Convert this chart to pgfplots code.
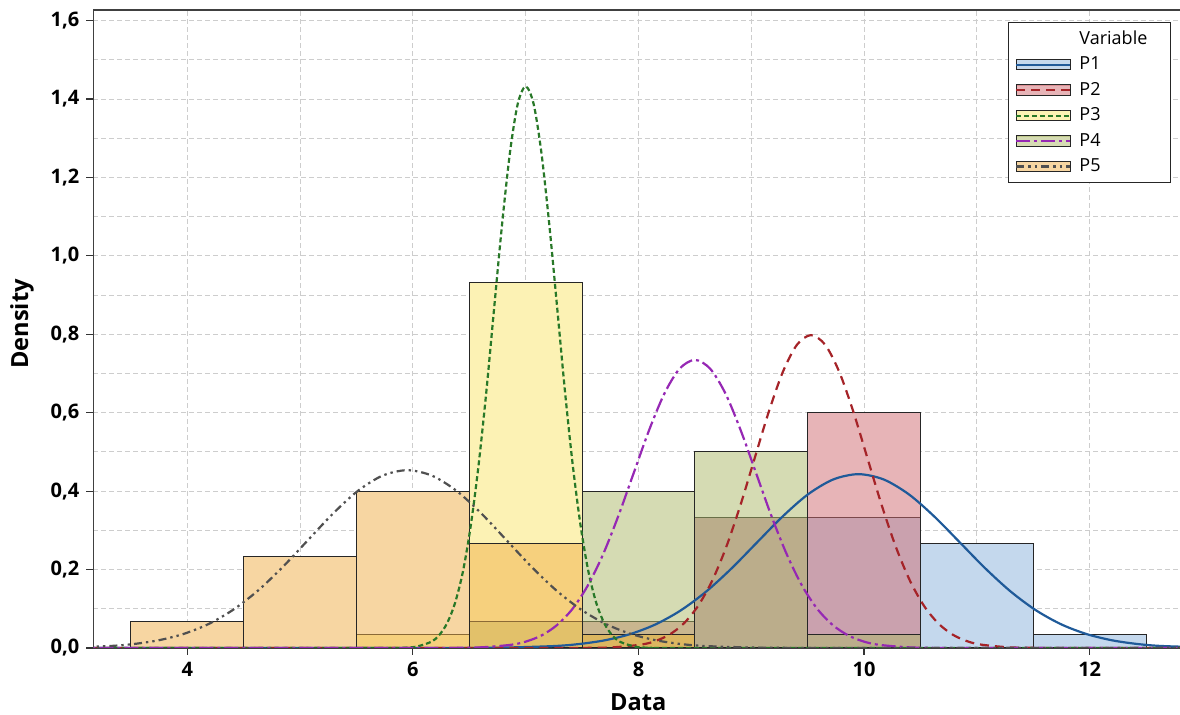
\documentclass[border=0pt]{standalone}
\usepackage{fontspec}
\setmainfont{Open Sans}
\usepackage{pgfplots}
\pgfplotsset{compat=1.18}

\definecolor{gridc}{RGB}{205,205,205}
\definecolor{f1}{RGB}{139,179,221}
\definecolor{f2}{RGB}{209,107,113}
\definecolor{f3}{RGB}{251,231,107}
\definecolor{f4}{RGB}{173,185,105}
\definecolor{f5}{RGB}{241,175,71}
\definecolor{l1}{RGB}{31,90,153}
\definecolor{l2}{RGB}{165,35,40}
\definecolor{l3}{RGB}{40,120,40}
\definecolor{l4}{RGB}{150,40,180}
\definecolor{l5}{RGB}{80,80,80}

\tikzset{
  c1/.style={color=l1, line width=1.1pt, solid},
  c2/.style={color=l2, line width=1.1pt, dash pattern=on 4.5pt off 3pt},
  c3/.style={color=l3, line width=1.1pt, dash pattern=on 2.5pt off 1.5pt},
  c4/.style={color=l4, line width=1.1pt, dash pattern=on 7pt off 2pt on 1.5pt off 2pt},
  c5/.style={color=l5, line width=1.1pt, dash pattern=on 4pt off 2pt on 1.2pt off 2pt on 1.2pt off 2pt},
}
\pgfplotsset{
  bars/.style={ybar, bar width=1, bar shift=0pt, draw=black!85, line width=0.5pt,
    fill opacity=0.5, forget plot},
}

% legend swatch: filled box with the fit line across it
\newcommand\legsw[2]{\addlegendimage{legend image code/.code={%
  \fill[#1, opacity=0.5] (0pt,-2.6pt) rectangle (27pt,2.6pt);
  \draw[black!85, line width=0.5pt] (0pt,-2.6pt) rectangle (27pt,2.6pt);
  \draw[#2] (0pt,0pt) -- (27pt,0pt);
  \path[draw=none, fill=none] (0pt,0pt) -- (29.5pt,0pt);}}}

\begin{document}
\begin{tikzpicture}
\begin{axis}[
  at={(0,0)}, anchor=south west,
  width=545pt, height=319pt, scale only axis,
  xmin=3.167, xmax=12.83, ymin=0, ymax=1.627,
  xtick={4,6,8,10,12}, ytick={0,0.2,...,1.6},
  minor x tick num=1, minor y tick num=1,
  grid=both,
  major grid style={gridc, dash pattern=on 2.5pt off 1.5pt, line width=0.5pt},
  minor grid style={gridc, dash pattern=on 2.5pt off 1.5pt, line width=0.5pt},
  tick align=outside, tick pos=left,
  major tick length=3.5pt, minor tick length=0pt,
  tick style={black!80, line width=0.6pt},
  axis line style={black!75, line width=0.6pt},
  /pgf/number format/assume math mode=true,
  tick label style={font=\bfseries\fontsize{10}{12}\selectfont},
  yticklabel style={/pgf/number format/.cd, fixed, fixed zerofill, precision=1, use comma},
  xlabel={Data}, ylabel={Density},
  every axis x label/.style={at={(axis description cs:0.5,-0.0846)}, anchor=center,
    font=\bfseries\fontsize{11.8}{14}\selectfont},
  every axis y label/.style={at={(axis description cs:-0.0654,0.508)}, rotate=90, anchor=center,
    font=\bfseries\fontsize{11.8}{14}\selectfont},
  legend cell align=left,
  legend style={at={(1,1)}, anchor=north east, xshift=-6.15pt, yshift=-6pt,
    font=\fontsize{9}{11}\selectfont, draw=black!85, line width=0.6pt,
    inner xsep=3.5pt, inner ysep=2pt, row sep=0.75pt},
]
% white backing so the grid does not show through the bars
\addplot[ybar, bar width=1, bar shift=0pt, fill=white, draw=none, forget plot] coordinates
  {(4,0.0667) (5,0.2333) (6,0.4) (7,0.9333) (8,0.4) (9,0.5) (10,0.6) (11,0.2667) (12,0.0333)};

% histograms (density, bin width 1)
\addplot[bars, fill=f1] coordinates {(8,0.0333) (9,0.3333) (10,0.3333) (11,0.2667) (12,0.0333)};
\addplot[bars, fill=f2] coordinates {(8,0.0667) (9,0.3333) (10,0.6)};
\addplot[bars, fill=f3] coordinates {(6,0.0333) (7,0.9333) (8,0.0333)};
\addplot[bars, fill=f4] coordinates {(7,0.0667) (8,0.4) (9,0.5) (10,0.0333)};
\addplot[bars, fill=f5] coordinates {(4,0.0667) (5,0.2333) (6,0.4) (7,0.2667) (8,0.0333)};

% fitted normal curves
\addplot[c1, smooth, forget plot] coordinates {
  (3.0,0) (5.9,0) (6.35,0.0001) (6.80,0.0010) (7.25,0.0049) (7.475,0.0101) (7.70,0.0195)
  (7.925,0.0353) (8.15,0.0600) (8.375,0.0959) (8.60,0.1439) (8.825,0.2029) (9.05,0.2689)
  (9.275,0.3346) (9.50,0.3912) (9.725,0.4296) (9.95,0.4433) (10.175,0.4296) (10.40,0.3912)
  (10.625,0.3346) (10.85,0.2689) (11.075,0.2029) (11.30,0.1439) (11.525,0.0959) (11.75,0.0600)
  (11.975,0.0353) (12.20,0.0195) (12.425,0.0101) (12.65,0.0049) (13.10,0.0010)};
\addplot[c2, smooth, forget plot] coordinates {
  (3.0,0) (7.1,0) (7.53,0.0003) (7.78,0.0018) (8.03,0.0089) (8.155,0.0182) (8.28,0.0350)
  (8.405,0.0635) (8.53,0.1080) (8.655,0.1726) (8.78,0.2591) (8.905,0.3653) (9.03,0.4839)
  (9.155,0.6023) (9.28,0.7041) (9.405,0.7733) (9.53,0.7979) (9.655,0.7733) (9.78,0.7041)
  (9.905,0.6023) (10.03,0.4839) (10.155,0.3653) (10.28,0.2591) (10.405,0.1726) (10.53,0.1080)
  (10.655,0.0635) (10.78,0.0350) (10.905,0.0182) (11.03,0.0089) (11.28,0.0018) (11.53,0.0003)
  (12.0,0) (13.0,0)};
\addplot[c3, smooth, forget plot] coordinates {
  (3.0,0) (5.6,0) (5.886,0.0005) (6.025,0.0031) (6.164,0.0159) (6.233,0.0327) (6.303,0.0629)
  (6.373,0.1140) (6.443,0.1938) (6.512,0.3097) (6.582,0.4650) (6.652,0.6556) (6.721,0.8685)
  (6.791,1.081) (6.861,1.264) (6.930,1.388) (7.0,1.432) (7.070,1.388) (7.139,1.264)
  (7.209,1.081) (7.279,0.8685) (7.348,0.6556) (7.418,0.4650) (7.488,0.3097) (7.557,0.1938)
  (7.627,0.1140) (7.697,0.0629) (7.766,0.0327) (7.836,0.0159) (7.975,0.0031) (8.114,0.0005)
  (8.4,0) (13.0,0)};
\addplot[c4, smooth, forget plot] coordinates {
  (3.0,0) (6.0,0) (6.328,0.0002) (6.600,0.0016) (6.871,0.0082) (7.007,0.0168) (7.143,0.0323)
  (7.278,0.0585) (7.414,0.0994) (7.550,0.1589) (7.686,0.2386) (7.821,0.3363) (7.957,0.4456)
  (8.093,0.5546) (8.229,0.6484) (8.364,0.7121) (8.5,0.7347) (8.636,0.7121) (8.772,0.6484)
  (8.907,0.5546) (9.043,0.4456) (9.179,0.3363) (9.315,0.2386) (9.450,0.1589) (9.586,0.0994)
  (9.722,0.0585) (9.858,0.0323) (9.993,0.0168) (10.129,0.0082) (10.400,0.0016) (10.672,0.0002)
  (11.0,0) (13.0,0)};
\addplot[c5, smooth, forget plot] coordinates {
  (2.43,0.0002) (2.87,0.0010) (3.31,0.0050) (3.53,0.0103) (3.75,0.0199) (3.97,0.0361)
  (4.19,0.0613) (4.41,0.0981) (4.63,0.1472) (4.85,0.2076) (5.07,0.2750) (5.29,0.3422)
  (5.51,0.4001) (5.73,0.4394) (5.95,0.4534) (6.17,0.4394) (6.39,0.4001) (6.61,0.3422)
  (6.83,0.2750) (7.05,0.2076) (7.27,0.1472) (7.49,0.0981) (7.71,0.0613) (7.93,0.0361)
  (8.15,0.0199) (8.37,0.0103) (8.59,0.0050) (9.03,0.0010) (9.47,0.0002) (9.9,0) (13.0,0)};

\addlegendimage{empty legend}\addlegendentry{Variable\hspace*{6pt}}
\legsw{f1}{c1}\addlegendentry{P1}
\legsw{f2}{c2}\addlegendentry{P2}
\legsw{f3}{c3}\addlegendentry{P3}
\legsw{f4}{c4}\addlegendentry{P4}
\legsw{f5}{c5}\addlegendentry{P5}
\end{axis}
\pgfresetboundingbox
\path[use as bounding box] (-46.65pt,-33.5pt) rectangle (543.35pt,324pt);
\end{tikzpicture}
\end{document}
